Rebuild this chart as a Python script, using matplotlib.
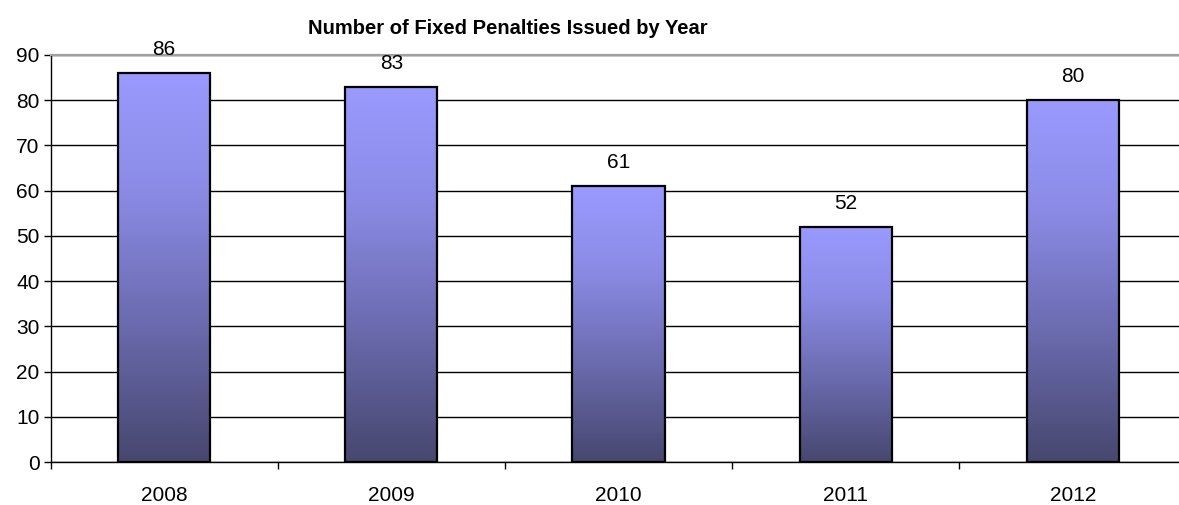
import matplotlib.pyplot as plt
import numpy as np
from matplotlib.colors import LinearSegmentedColormap

plt.rcParams['font.family'] = ['Liberation Sans', 'DejaVu Sans']

years = ['2008', '2009', '2010', '2011', '2012']
penalties = [86, 83, 61, 52, 80]

# light at the top of each bar, dark at the base
shade = LinearSegmentedColormap.from_list(
    'bar_shade', [(0.0, '#47476f'), (0.35, '#6a6aae'), (0.7, '#8b8be6'), (1.0, '#9a9aff')])

fig = plt.figure(figsize=(11.79, 5.05), dpi=100)
# axes deliberately runs past the right edge of the figure
ax = fig.add_axes([50.5 / 1179, 43 / 505, 1136 / 1179, 407 / 505])

x = np.arange(len(years))
width = 0.405
bars = ax.bar(x, penalties, width=width, facecolor='none', edgecolor='black',
              linewidth=1.6, zorder=3)

grad = np.linspace(0, 1, 256).reshape(-1, 1)
for b in bars:
    x0, y0 = b.get_x(), b.get_y()
    im = ax.imshow(grad, cmap=shade, origin='lower', aspect='auto',
                   extent=[x0, x0 + b.get_width(), y0, y0 + b.get_height()], zorder=2)
    im.set_clip_path(b)

for xi, v in zip(x, penalties):
    ax.annotate(str(v), (xi, v), xytext=(0, 10), textcoords='offset points',
                ha='center', va='bottom', fontsize=15)

ax.set_xlim(-0.5, len(years) - 0.5)
ax.set_ylim(0, 90)
ax.set_yticks(range(0, 91, 10))
ax.set_xticks(x)
ax.set_xticklabels(years)
ax.set_xticks(np.arange(-0.5, len(years), 1), minor=True)
ax.tick_params(axis='x', which='major', length=0, pad=17, labelsize=15)
ax.tick_params(axis='x', which='minor', length=5, direction='out', width=1)
ax.tick_params(axis='y', length=5, direction='out', width=1, labelsize=15, pad=3)

ax.yaxis.grid(True, color='black', linewidth=1)
ax.set_axisbelow(True)
ax.spines['right'].set_visible(False)
ax.spines['top'].set_color('#a0a0a0')
ax.spines['top'].set_linewidth(1.6)
ax.spines['left'].set_linewidth(1)
ax.spines['bottom'].set_linewidth(1)

fig.suptitle('Number of Fixed Penalties Issued by Year', fontsize=14.5,
             fontweight='bold', x=508 / 1179, y=1 - 28 / 505, va='center')

fig.savefig('out.png', dpi=100)
